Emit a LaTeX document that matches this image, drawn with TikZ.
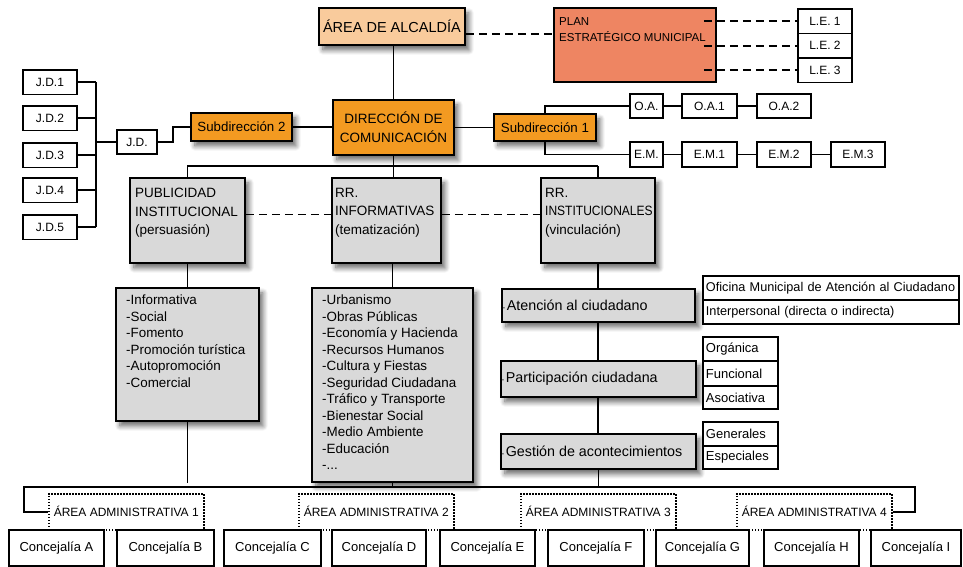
\documentclass[tikz,border=0pt]{standalone}
\usepackage{fontspec}
\setmainfont{Liberation Sans}
\usetikzlibrary{calc,shadows.blur}

\definecolor{alcfill}{HTML}{F9CB9C}
\definecolor{planfill}{HTML}{EE8562}
\definecolor{dirfill}{HTML}{F39A21}
\definecolor{grayfill}{HTML}{D9D9D9}

\newcommand\setfs[2]{\fontsize{#1}{#2}\selectfont}
\newcommand\smalldash{{\setfs{8}{8}-}\hspace{1.5pt}}

\tikzset{
  x=1pt, y=-1pt,
  box/.style={draw=black, line width=1.9pt, rectangle, inner sep=0pt, anchor=north west},
  shad/.style={blur shadow={shadow xshift=4pt, shadow yshift=-5pt, shadow blur steps=8,
               shadow opacity=60, shadow blur radius=5pt}},
  wbox/.style={box, fill=white},
  gbox/.style={box, fill=grayfill, shad},
  obox/.style={box, fill=dirfill, shad},
  sidebox/.style={wbox, inner xsep=3pt, align=left, font=\setfs{13}{15}},
  areabox/.style={box, line width=1.5pt, dash pattern=on 1.5pt off 1.5pt, font=\setfs{12}{14}},
  concbox/.style={wbox, font=\setfs{13}{15}},
  txt/.style={anchor=north west, align=left, inner sep=0pt},
  conn/.style={line width=1.8pt},
  dashconn/.style={line width=1.8pt, dash pattern=on 8pt off 5pt},
}

\begin{document}
\begin{tikzpicture}
\useasboundingbox (0,0) rectangle (963,566);

% ---------- mayor's office and strategic plan
\node[box, fill=alcfill, shad, minimum width=146, minimum height=37,
      font=\setfs{14.5}{17}] (alc) at (318,7) {ÁREA DE ALCALDÍA};
\node[box, fill=planfill, minimum width=162, minimum height=74] (plan) at (553,7) {};
\node[txt, font=\setfs{11.5}{16}] (plantxt) at (559,17) {PLAN\\ESTRATÉGICO MUNICIPAL};

\node[wbox, minimum width=54, minimum height=24.5, font=\setfs{12}{14}] (le1) at (797,8) {L.E. 1};
\node[wbox, minimum width=54, minimum height=24.5, font=\setfs{12}{14}] (le2) at (797,32.5) {L.E. 2};
\node[wbox, minimum width=54, minimum height=24.5, font=\setfs{12}{14}] (le3) at (797,57) {L.E. 3};

\foreach \n in {le1,le2,le3}
  \draw[dashconn] ($(plan.east |- \n.west)+(-13,0)$) -- (\n.west);

\coordinate (alcd) at ($(alc.south east)+(0,-12)$);
\draw[dashconn] (alcd) -- (plan.west |- alcd);

% ---------- communication direction and sub-directions
\node[obox, minimum width=121, minimum height=55, align=center,
      font=\setfs{13.5}{19}] (dir) at (332,99) {DIRECCIÓN DE\\COMUNICACIÓN};
\draw[conn] (dir.north) -- (dir.north |- alc.south);

\node[obox, minimum width=102, minimum height=27, font=\setfs{13.3}{16}] (sub1) at (493,113) {Subdirección 1};
\node[obox, minimum width=101, minimum height=28, font=\setfs{13.3}{16}] (sub2) at (190,112) {Subdirección 2};
\draw[conn] (dir.east) -- (sub1.west);
\draw[conn] (sub2.east) -- (dir.west |- sub2.east);

% O.A. and E.M. chains
\node[wbox, minimum width=33, minimum height=24, font=\setfs{12}{14}] (oa)  at (629,93) {O.A.};
\node[wbox, minimum width=55, minimum height=24, font=\setfs{12}{14}] (oa1) at (681,93) {O.A.1};
\node[wbox, minimum width=54, minimum height=24, font=\setfs{12}{14}] (oa2) at (756,93) {O.A.2};
\node[wbox, minimum width=33, minimum height=25, font=\setfs{12}{14}] (em)  at (629,141) {E.M.};
\node[wbox, minimum width=55, minimum height=25, font=\setfs{12}{14}] (em1) at (681,141) {E.M.1};
\node[wbox, minimum width=54, minimum height=25, font=\setfs{12}{14}] (em2) at (756,141) {E.M.2};
\node[wbox, minimum width=54, minimum height=25, font=\setfs{12}{14}] (em3) at (830,141) {E.M.3};
\draw[conn] (sub1.north) |- (oa.west);
\draw[conn] (sub1.south) |- (em.west);
\draw[conn] (oa.east) -- (oa1.west);
\draw[conn] (oa1.east) -- (oa2.west);
\draw[conn] (em.east) -- (em1.west);
\draw[conn] (em1.east) -- (em2.west);
\draw[conn] (em2.east) -- (em3.west);

% J.D. group
\node[wbox, minimum width=40, minimum height=24, font=\setfs{12}{14}] (jd) at (116,129) {J.D.};
\node[wbox, minimum width=54, minimum height=24.5, font=\setfs{12}{14}] (jd1) at (22,69) {J.D.1};
\node[wbox, minimum width=54, minimum height=24.5, font=\setfs{12}{14}] (jd2) at (22,105) {J.D.2};
\node[wbox, minimum width=54, minimum height=24.5, font=\setfs{12}{14}] (jd3) at (22,142) {J.D.3};
\node[wbox, minimum width=54, minimum height=24.5, font=\setfs{12}{14}] (jd4) at (22,177) {J.D.4};
\node[wbox, minimum width=54, minimum height=24.5, font=\setfs{12}{14}] (jd5) at (22,214) {J.D.5};
\coordinate (jdbus) at (96,0);
\foreach \n in {jd1,jd2,jd3,jd4,jd5}
  \draw[conn] (\n.east) -- (\n.east -| jdbus);
\draw[conn] (jd1.east -| jdbus) -- (jd5.east -| jdbus);
\draw[line width=2.4pt] (jd.west) -- (jd.west -| jdbus);
\draw[conn] (sub2.west) -- ++(-17,0) |- (jd.east);

% ---------- three communication areas
\node[gbox, minimum width=115, minimum height=85] (pub)    at (129,177) {};
\node[gbox, minimum width=109, minimum height=85] (rri)    at (331,177) {};
\node[gbox, minimum width=114, minimum height=85] (rrinst) at (540,177) {};
\node[txt, font=\setfs{13.5}{18.5}] (pubtxt)    at (135,188) {PUBLICIDAD\\INSTITUCIONAL\\(persuasión)};
\node[txt, font=\setfs{13.5}{18.5}] (rritxt)    at (335,188) {RR.\\INFORMATIVAS\\(tematización)};
\node[txt, font=\setfs{13.5}{18.5}] (rrinsttxt) at (545,188) {RR.\\\scalebox{0.89}[1]{INSTITUCIONALES}\\(vinculación)};

\coordinate (busy) at (0,166);
\draw[conn] (dir.south) -- (dir.south |- busy);
\draw[conn] (pub.north |- busy) -- (rrinst.north |- busy);
\draw[conn] (pub.north |- busy) -- (pub.north);
\draw[conn] (dir.south |- busy) -- (dir.south |- rri.north);
\draw[conn] (rrinst.north |- busy) -- (rrinst.north);

\draw[dashconn] ($(pub.east)+(0,-6)$) -- ($(rri.west)+(0,-6)$);
\draw[dashconn] ($(rri.east)+(0,-6)$) -- ($(rrinst.west)+(0,-6)$);

% lists
\node[gbox, minimum width=143, minimum height=133] (publist) at (115,287) {};
\node[gbox, minimum width=161, minimum height=194] (rrilist) at (311,287) {};
\node[txt, font=\setfs{13.4}{16.5}] (publisttxt) at (126,295)
  {-Informativa\\-Social\\-Fomento\\-Promoción turística\\-Autopromoción\\-Comercial};
\node[txt, font=\setfs{13.4}{16.5}] (rrilisttxt) at (322,295)
  {-Urbanismo\\-Obras Públicas\\-Economía y Hacienda\\-Recursos Humanos\\-Cultura y Fiestas\\-Seguridad Ciudadana\\-Tráfico y Transporte\\-Bienestar Social\\-Medio Ambiente\\-Educación\\-...};
\draw[conn] (pub.south) -- (publist.north);
\draw[conn] (rrilist.north |- rri.south) -- (rrilist.north);

% institutional relations column
\node[gbox, minimum width=193, minimum height=33] (aten) at (501,288) {};
\node[gbox, minimum width=195, minimum height=36] (part) at (500,360) {};
\node[gbox, minimum width=195, minimum height=35] (gest) at (500,433) {};
\node[anchor=west, inner sep=0pt, font=\setfs{14.3}{16}] (atentxt) at ($(aten.west)+(1.5,0)$) {\smalldash Atención al ciudadano};
\node[anchor=west, inner sep=0pt, font=\setfs{14.3}{16}] (parttxt) at ($(part.west)+(1.5,0)$) {\smalldash Participación ciudadana};
\node[anchor=west, inner sep=0pt, font=\setfs{14.3}{16}] (gesttxt) at ($(gest.west)+(1.5,0)$) {\smalldash Gestión de acontecimientos};
\draw[conn] (rrinst.south) -- (rrinst.south |- aten.north);
\draw[conn] (rrinst.south |- aten.south) -- (rrinst.south |- part.north);
\draw[conn] (rrinst.south |- part.south) -- (rrinst.south |- gest.north);

\node[sidebox, text width=250, minimum height=24, font=\setfs{12.7}{15}] (ofi)   at (702,275) {\mbox{Oficina Municipal de Atención al Ciudadano}};
\node[sidebox, text width=250, minimum height=24, font=\setfs{12.7}{15}] (inter) at (702,299) {\mbox{Interpersonal (directa o indirecta)}};
\node[sidebox, text width=69, minimum height=24] (org) at (702,336) {Orgánica};
\node[sidebox, text width=69, minimum height=25] (fun) at (702,360) {Funcional};
\node[sidebox, text width=69, minimum height=23] (aso) at (702,385) {Asociativa};
\node[sidebox, text width=69, minimum height=24] (gen) at (702,421) {Generales};
\node[sidebox, text width=69, minimum height=23] (esp) at (702,445) {Especiales};

% ---------- administrative areas and councils
\node[areabox, minimum width=155, minimum height=36] (area1) at (48,493)  {ÁREA ADMINISTRATIVA 1};
\node[areabox, minimum width=155, minimum height=36] (area2) at (298,493) {ÁREA ADMINISTRATIVA 2};
\node[areabox, minimum width=155, minimum height=36] (area3) at (520,493) {ÁREA ADMINISTRATIVA 3};
\node[areabox, minimum width=155, minimum height=36] (area4) at (736,493) {ÁREA ADMINISTRATIVA 4};

\coordinate (bl) at (24,487);
\coordinate (br) at (915,487);
\draw[conn] (area1.west) -| (bl) -- (br) |- (area4.east);
\draw[conn] (publist.south) -- (publist.south |- rrilist.south);
\draw[conn] (rrilist.south) -- (rrilist.south |- bl);
\draw[conn] (gest.south) -- (gest.south |- bl);

\node[concbox, minimum width=95, minimum height=36] (ca) at (8,529)   {Concejalía A};
\node[concbox, minimum width=97, minimum height=36] (cb) at (116,529) {Concejalía B};
\node[concbox, minimum width=97, minimum height=36] (cc) at (223,529) {Concejalía C};
\node[concbox, minimum width=94, minimum height=36] (cd) at (331,529) {Concejalía D};
\node[concbox, minimum width=95, minimum height=36] (ce) at (439,529) {Concejalía E};
\node[concbox, minimum width=96, minimum height=36] (cf) at (547,529) {Concejalía F};
\node[concbox, minimum width=93, minimum height=36] (cg) at (655,529) {Concejalía G};
\node[concbox, minimum width=95, minimum height=36] (ch) at (763,529) {Concejalía H};
\node[concbox, minimum width=90, minimum height=36] (ci) at (870,529) {Concejalía I};
\end{tikzpicture}
\end{document}
